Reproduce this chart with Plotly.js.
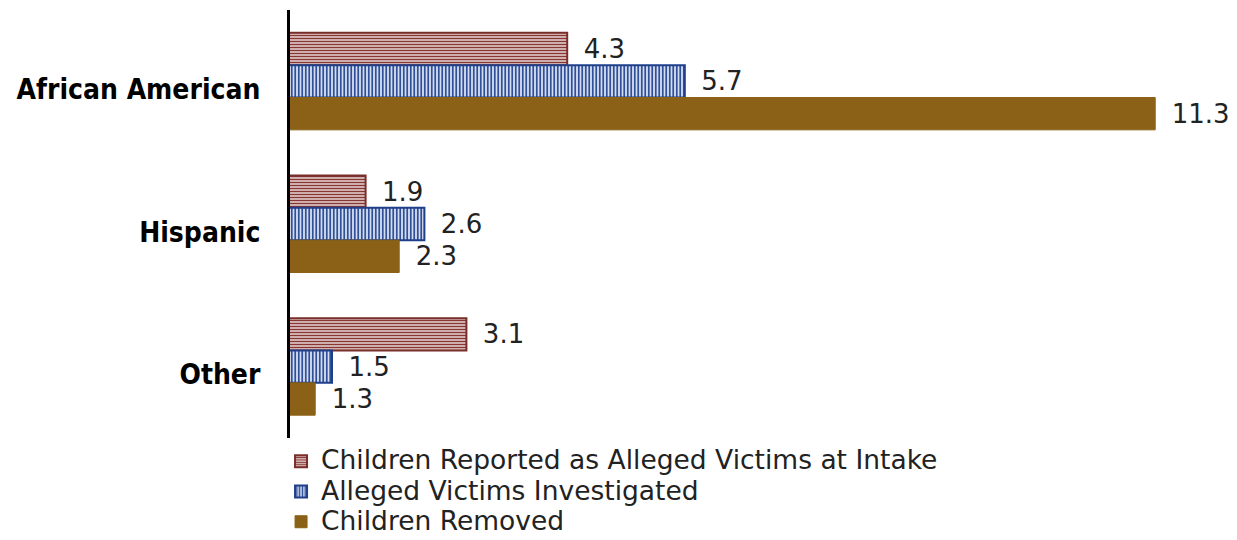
<!DOCTYPE html>
<html>
<head>
<meta charset="utf-8">
<script src="https://cdn.plot.ly/plotly-3.0.1.min.js"></script>
<style>
  html, body { margin: 0; padding: 0; background: #fff; }
  #chart { width: 1237px; height: 540px; }
  #chart .legend .legendtext { font-size: 26.5px !important; }
  #chart .legend .scrollbox { clip-path: none !important; }
</style>
</head>
<body>
<div id="chart"></div>
<script>
const categories = ["African American", "Hispanic", "Other"];
const seriesNames = [
  "Children Reported as Alleged Victims at Intake",
  "Alleged Victims Investigated",
  "Children Removed"
];
const reportedValues = [4.3, 1.9, 3.1];
const investigatedValues = [5.7, 2.6, 1.5];
const removedValues = [11.3, 2.3, 1.3];

const textFont = { family: "DejaVu Sans, Verdana, sans-serif", size: 26, color: "#222222" };
const common = {
  type: "bar",
  orientation: "h",
  y: categories,
  textposition: "outside",
  texttemplate: "\u00a0\u2009%{x:.1f}",
  textfont: textFont,
  outsidetextfont: textFont,
  constraintext: "none",
  cliponaxis: false,
  hoverinfo: "skip"
};

const traces = [
  Object.assign({}, common, {
    name: seriesNames[0],
    x: reportedValues,
    marker: {
      color: "#ffffff",
      line: { color: "#7a2e2a", width: 2 },
      pattern: { shape: "-", fgcolor: "#873632", bgcolor: "#ffffff", size: 3, solidity: 0.6 }
    }
  }),
  Object.assign({}, common, {
    name: seriesNames[1],
    x: investigatedValues,
    marker: {
      color: "#ffffff",
      line: { color: "#1f3f8a", width: 2 },
      pattern: { shape: "|", fgcolor: "#2f5099", bgcolor: "#d4ddef", size: 3.5, solidity: 0.5 }
    }
  }),
  Object.assign({}, common, {
    name: seriesNames[2],
    x: removedValues,
    marker: {
      color: "#8a6116",
      line: { color: "#8a6116", width: 1 }
    }
  })
];

const layout = {
  width: 1237,
  height: 540,
  margin: { l: 290, r: 23, t: 10, b: 102, autoexpand: false },
  paper_bgcolor: "#ffffff",
  plot_bgcolor: "#ffffff",
  barmode: "group",
  bargap: 0.32,
  bargroupgap: 0,
  showlegend: true,
  legend: {
    x: -0.0097, xanchor: "left",
    y: -0.007, yanchor: "top",
    orientation: "v",
    font: { family: "DejaVu Sans, Verdana, sans-serif", size: 21, color: "#222222" },
    itemwidth: 30,
    tracegroupgap: 0,
    bgcolor: "rgba(0,0,0,0)"
  },
  xaxis: {
    range: [1, 12],
    showgrid: false,
    zeroline: false,
    showline: false,
    showticklabels: false,
    ticks: ""
  },
  yaxis: {
    autorange: "reversed",
    showgrid: false,
    zeroline: false,
    showline: true,
    linecolor: "#000000",
    linewidth: 3,
    ticks: "",
    ticklabelstandoff: 21,
    ticklabelshift: -8,
    tickfont: { family: "DejaVu Sans Condensed, DejaVu Sans, sans-serif", size: 28, color: "#000000", weight: "bold" }
  },
  font: { family: "DejaVu Sans, sans-serif" }
};

Plotly.newPlot("chart", traces, layout, { displayModeBar: false, staticPlot: true });
</script>
</body>
</html>
